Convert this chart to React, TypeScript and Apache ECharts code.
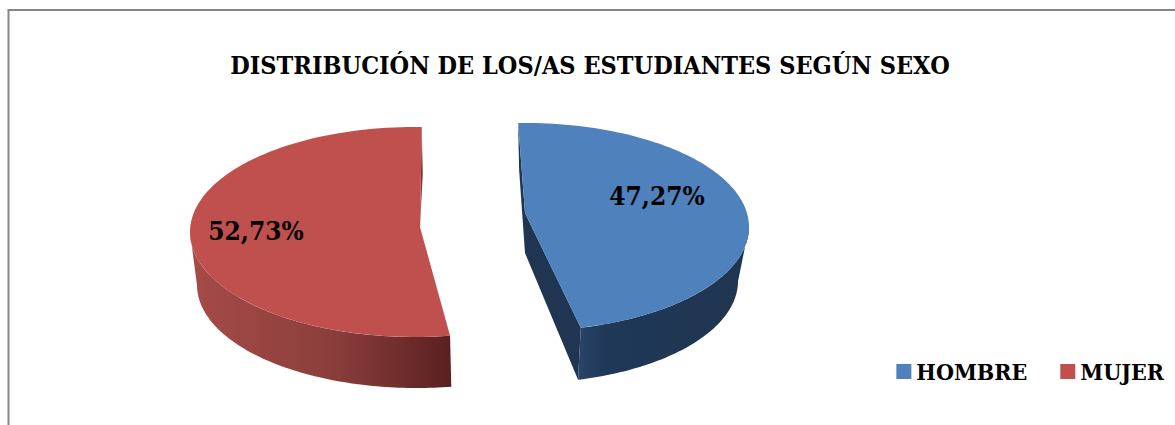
import React, { useEffect, useRef } from "react";
import * as echarts from "echarts";

const titleText = "DISTRIBUCIÓN DE LOS/AS ESTUDIANTES SEGÚN SEXO";
const categories = ["HOMBRE", "MUJER"];
const percentages = [47.27, 52.73];
const colors = ["#4F81BD", "#C0504D"];
const FONT = '"DejaVu Serif Condensed", "DejaVu Serif", serif';

const TOTAL = percentages.reduce((a, b) => a + b, 0);
const rad = (d: number) => (d * Math.PI) / 180;

type Geo = {
  startAngle: number; ex: number; ey: number; rx: number; ry: number; warp: number;
  bx: number; by: number; rxb: number; ryb: number;
  apex: number[]; apexBottom: number[];
  wallFrom: (s: number, e: number) => number[];
  wallFill: any; labelPos: number[];
};

const geometries: Geo[] = [
  {
    startAngle: -2.2, ex: 525, ey: 227, rx: 224, ry: 104, warp: 11.5,
    bx: 525, by: 281, rxb: 213, ryb: 102,
    apex: [525, 213], apexBottom: [525, 253],
    wallFrom: (_s, e) => [101.5, e],
    wallFill: new echarts.graphic.LinearGradient(0, 0, 1, 0, [
      { offset: 0, color: "#2A4568" }, { offset: 0.15, color: "#1F3859" },
      { offset: 1, color: "#20354F" },
    ]),
    labelPos: [657, 196],
  },
  {
    startAngle: 172.2, ex: 415, ey: 232, rx: 225, ry: 105, warp: 8.6,
    bx: 417, by: 285, rxb: 220, ryb: 103,
    apex: [420, 227], apexBottom: [420, 260],
    wallFrom: (s, _e) => [s, 261.4],
    wallFill: new echarts.graphic.LinearGradient(0, 0, 1, 0, [
      { offset: 0, color: "#A64B48" }, { offset: 0.55, color: "#8A3E3B" },
      { offset: 0.85, color: "#6B2A2A" }, { offset: 1, color: "#5A2020" },
    ]),
    labelPos: [256, 231],
  },
];

function arcPoint(g: Geo, deg: number, bottom: boolean): number[] {
  const phi = deg - g.warp * Math.sin(rad(deg));
  const s = Math.sin(rad(phi));
  const c = Math.cos(rad(phi));
  return bottom
    ? [g.bx + g.rxb * s, g.by - g.ryb * c]
    : [g.ex + g.rx * s, g.ey - g.ry * c];
}

function arcPoints(g: Geo, from: number, to: number, bottom: boolean): number[][] {
  const n = 90;
  const pts: number[][] = [];
  for (let i = 0; i <= n; i++) pts.push(arcPoint(g, from + ((to - from) * i) / n, bottom));
  return pts;
}

function makeRenderItem(idx: number) {
  return (_p: any, api: any) => {
    const g = geometries[idx];
    const value = api.value(0) as number;
    const start = g.startAngle;
    const end = start + (value / TOTAL) * 360;
    const [wa, wb] = g.wallFrom(start, end);
    const wallTop = arcPoints(g, wa, wb, false);
    const wallBot = arcPoints(g, wa, wb, true).reverse();
    const dark = idx === 0 ? "#1F3552" : "#7E3533";
    const sTop = arcPoint(g, idx === 0 ? start : end, false);
    const innerEnd = idx === 0 ? arcPoint(g, end, false) : null;
    const innerEndB = idx === 0 ? arcPoint(g, end, true) : null;
    const strip = idx === 0
      ? [sTop, g.apex, g.apexBottom, [sTop[0] + 1, sTop[1] + 47]]
      : [sTop, g.apex, [sTop[0] + 1, sTop[1] + 47]];
    const children: any[] = [
      { type: "polygon", shape: { points: strip }, style: { fill: dark } },
    ];
    if (innerEnd && innerEndB) {
      children.push({
        type: "polygon",
        shape: { points: [g.apex, innerEnd, innerEndB, g.apexBottom] },
        style: { fill: dark },
      });
    }
    children.push({
      type: "polygon",
      shape: { points: wallTop.concat(wallBot) },
      style: { fill: g.wallFill },
    });
    children.push({
      type: "polygon",
      shape: { points: [g.apex, ...arcPoints(g, start, end, false)] },
      style: { fill: colors[idx] },
    });
    children.push({
      type: "text",
      style: {
        x: g.labelPos[0], y: g.labelPos[1],
        text: value.toFixed(2).replace(".", ",") + "%",
        align: "center", verticalAlign: "middle",
        font: `bold 26px ${FONT}`, fill: "#000",
      },
    });
    return { type: "group", children };
  };
}

export default function App() {
  const ref = useRef<HTMLDivElement>(null);
  useEffect(() => {
    document.body.style.margin = "0";
    const chart = echarts.init(ref.current!, undefined, { renderer: "svg" });
    chart.setOption({
      animation: false,
      backgroundColor: "#fff",
      title: {
        text: titleText, left: 585, top: 48, textAlign: "center",
        textStyle: { fontFamily: FONT, fontWeight: "bold", fontSize: 25, color: "#000" },
      },
      legend: {
        data: categories, right: 11, top: 360, padding: 0, orient: "horizontal", icon: "rect",
        itemWidth: 15, itemHeight: 15, itemGap: 33,
        textStyle: { fontFamily: FONT, fontWeight: "bold", fontSize: 23, color: "#000" },
      },
      graphic: [{
        type: "polyline", silent: true,
        shape: { points: [[8.5, 430], [8.5, 10], [1180, 10]] },
        style: { stroke: "#868686", lineWidth: 2, fill: "none" },
      }],
      series: categories.map((name, i) => ({
        type: "custom", name, coordinateSystem: "none",
        itemStyle: { color: colors[i] },
        data: [[percentages[i]]],
        renderItem: makeRenderItem(i),
      })),
    });
    return () => chart.dispose();
  }, []);
  return <div ref={ref} style={{ position: "absolute", left: 0, top: 0, width: 1175, height: 425 }} />;
}
